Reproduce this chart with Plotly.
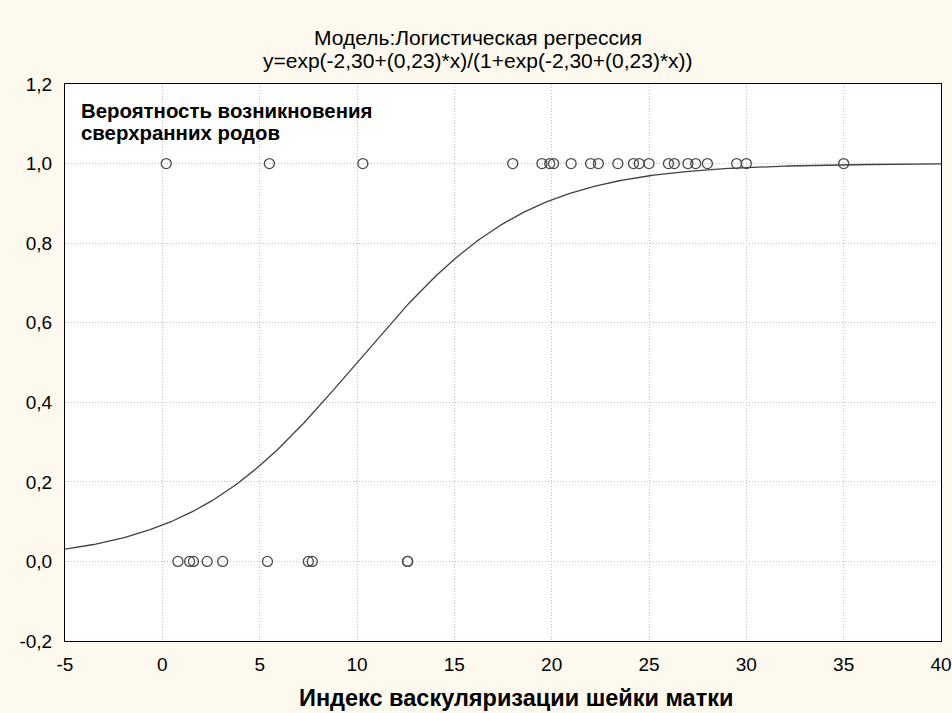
import numpy as np
import plotly.graph_objects as go

# Observed data: outcome 1 (сверхранние роды) and 0
x_outcome1 = [0.2, 5.5, 10.3, 18.0, 19.5, 19.9, 20.1, 21.0, 22.0, 22.4, 23.4,
              24.2, 24.5, 25.0, 26.0, 26.3, 27.0, 27.4, 28.0, 29.5, 30.0, 35.0]
x_outcome0 = [0.8, 1.4, 1.6, 2.3, 3.1, 5.4, 7.5, 7.7, 12.6, 12.6]

# Model coefficients (from the title)
b0 = -2.30
b1 = 0.23

x_ticks = [-5, 0, 5, 10, 15, 20, 25, 30, 35, 40]
x_tick_labels = ["-5", "0", "5", "10", "15", "20", "25", "30", "35", "40"]
y_ticks = [-0.2, 0.0, 0.2, 0.4, 0.6, 0.8, 1.0, 1.2]
y_tick_labels = ["-0,2", "0,0", "0,2", "0,4", "0,6", "0,8", "1,0", "1,2"]

title_lines = ["Модель:Логистическая регрессия",
               "y=exp(-2,30+(0,23)*x)/(1+exp(-2,30+(0,23)*x))"]
legend_lines = ["Вероятность возникновения", "сверхранних родов"]
x_title = "Индекс васкуляризации шейки матки"

xc = np.linspace(-5, 40, 400)
yc = np.exp(b0 + b1 * xc) / (1 + np.exp(b0 + b1 * xc))

FONT = "Arial, Liberation Sans, sans-serif"
BG = "#fdf9ee"
mk = dict(symbol="circle-open", size=10, color="#4a4a4a", line=dict(width=1.3, color="#4a4a4a"))

fig = go.Figure()
fig.add_trace(go.Scatter(x=xc, y=yc, mode="lines", line=dict(color="#404040", width=1.3),
                         showlegend=False, hoverinfo="skip"))
fig.add_trace(go.Scatter(x=x_outcome1, y=[1.0] * len(x_outcome1), mode="markers",
                         marker=mk, showlegend=False))
fig.add_trace(go.Scatter(x=x_outcome0, y=[0.0] * len(x_outcome0), mode="markers",
                         marker=mk, showlegend=False))

ann = []
for txt, yp in zip(title_lines, [1.0826, 1.0413]):
    ann.append(dict(text=txt, xref="paper", yref="paper", x=0.471, y=yp,
                    xanchor="center", yanchor="middle", showarrow=False,
                    font=dict(family=FONT, size=21, color="black")))
for txt, yp in zip(legend_lines, [0.9515, 0.912]):
    ann.append(dict(text="<b>" + txt + "</b>", xref="paper", yref="paper", x=0.016, y=yp,
                    xanchor="left", yanchor="middle", showarrow=False,
                    font=dict(family=FONT, size=20.4, color="black")))
ann.append(dict(text="<b>" + x_title + "</b>", xref="paper", yref="paper", x=0.515, y=-0.1023,
                xanchor="center", yanchor="middle", showarrow=False,
                font=dict(family=FONT, size=23.5, color="black")))

fig.update_layout(
    width=952, height=713,
    paper_bgcolor=BG, plot_bgcolor="white",
    margin=dict(l=65, r=11, t=84, b=72),
    font=dict(family=FONT, size=19, color="black"),
    annotations=ann,
)
grid = dict(showgrid=True, gridcolor="#c4c4c4", griddash="1px,2px", gridwidth=1,
            showline=True, linecolor="black", linewidth=1, mirror=True,
            zeroline=False, ticks="", automargin=False, tickfont=dict(size=19))
fig.update_xaxes(range=[-5, 40], tickvals=x_ticks, ticktext=x_tick_labels,
                 ticklabelstandoff=6, **grid)
fig.update_yaxes(range=[-0.2, 1.2], tickvals=y_ticks, ticktext=y_tick_labels,
                 ticklabelstandoff=8, **grid)

fig.write_html(
    "out.html",
    config={"displayModeBar": False},
    post_script=("document.body.style.margin='0';document.body.style.overflow='hidden';"
                 "document.body.style.background='%s';" % BG),
)
